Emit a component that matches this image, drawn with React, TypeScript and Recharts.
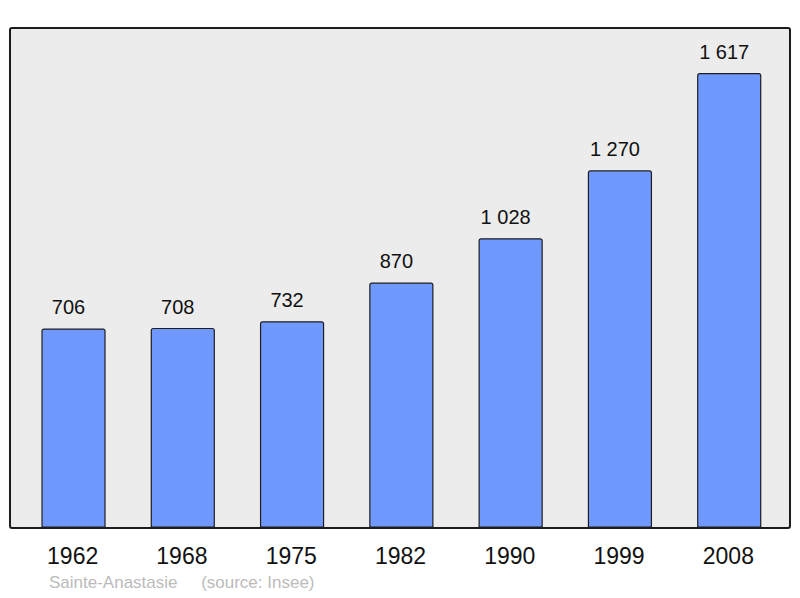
import { BarChart, Bar, XAxis, YAxis, LabelList } from 'recharts';

const years = ['1962', '1968', '1975', '1982', '1990', '1999', '2008'];
const population = [706, 708, 732, 870, 1028, 1270, 1617];
const commune = 'Sainte-Anastasie';
const source = '(source: Insee)';

const chartData = years.map((year, i) => ({ year, value: population[i] }));

const fmt = (v: number) => String(v).replace(/\B(?=(\d{3})+(?!\d))/g, ' ');

const FONT = '"Liberation Sans", Arial, sans-serif';

export default function App() {
  return (
    <div style={{ position: 'absolute', left: 0, top: 0, width: 800, height: 598, background: '#fff' }}>
      {/* plot frame, drawn behind the svg */}
      <div
        style={{
          position: 'absolute',
          left: 9,
          top: 27,
          width: 782,
          height: 502,
          boxSizing: 'border-box',
          background: '#ececec',
          border: '2px solid #1c1c1c',
          borderRadius: 3,
        }}
      />
      <div style={{ position: 'absolute', left: 0, top: 0 }}>
        <BarChart
          width={800}
          height={598}
          data={chartData}
          margin={{ top: 28, right: 9, left: 9, bottom: 30 }}
        >
          <XAxis
            dataKey="year"
            height={41}
            axisLine={false}
            tickLine={false}
            tickSize={0}
            tickMargin={21}
            padding={{ left: 10, right: 7 }}
            tick={{ fill: '#111', fontSize: 23, fontFamily: FONT, dx: -1 }}
          />
          <YAxis hide domain={[0, 1780]} />
          <Bar
            dataKey="value"
            fill="#7099ff"
            stroke="#1e1e1e"
            strokeWidth={1.2}
            barSize={63}
            radius={[2, 2, 0, 0]}
            isAnimationActive={false}
          >
            <LabelList
              dataKey="value"
              position="top"
              offset={15}
              dx={-5}
              formatter={(v: number) => fmt(v)}
              style={{ fill: '#111', fontSize: 20, fontFamily: FONT }}
            />
          </Bar>
        </BarChart>
      </div>
      <div
        style={{
          position: 'absolute',
          left: 49,
          top: 573,
          fontSize: 17,
          fontFamily: FONT,
          color: '#bbbbbb',
          whiteSpace: 'pre',
        }}
      >
        {commune + '     ' + source}
      </div>
    </div>
  );
}
